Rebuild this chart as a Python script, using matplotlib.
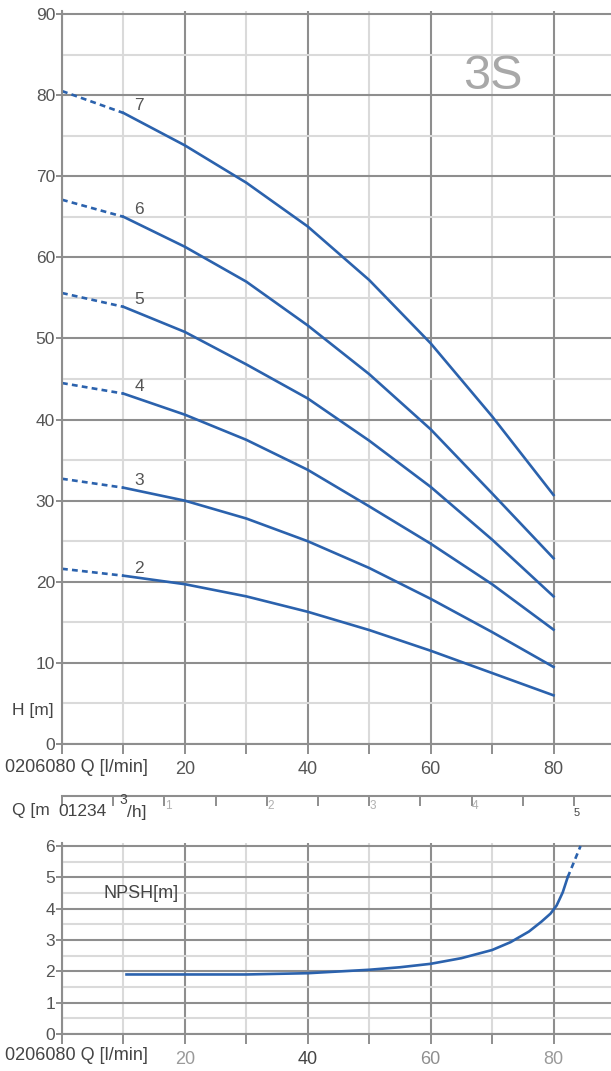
import numpy as np
import matplotlib
matplotlib.use('Agg')
import matplotlib.pyplot as plt
import matplotlib.transforms as mtransforms

plt.rcParams['font.family'] = ['Liberation Sans', 'DejaVu Sans']

# flow points (l/min) where the head curves were read
q_lmin = [0, 10, 20, 30, 40, 50, 60, 70, 80]
h_stage7 = [80.5, 77.8, 73.8, 69.2, 63.8, 57.2, 49.4, 40.4, 30.7]
h_stage6 = [67.1, 65.0, 61.3, 57.0, 51.6, 45.6, 38.8, 30.9, 22.9]
h_stage5 = [55.6, 53.9, 50.8, 46.8, 42.6, 37.4, 31.7, 25.2, 18.2]
h_stage4 = [44.5, 43.2, 40.6, 37.5, 33.8, 29.3, 24.7, 19.7, 14.1]
h_stage3 = [32.7, 31.6, 30.0, 27.8, 25.0, 21.7, 17.9, 13.8, 9.5]
h_stage2 = [21.6, 20.75, 19.7, 18.2, 16.3, 14.05, 11.5, 8.75, 6.0]
stage_names = ['7', '6', '5', '4', '3', '2']

npsh_q = [10.5, 20, 30, 40, 50, 55, 60, 65, 70, 73, 76, 78, 79.5, 80.5, 81.5, 82.3]
npsh_h = [1.9, 1.9, 1.9, 1.94, 2.05, 2.13, 2.24, 2.42, 2.68, 2.93, 3.27, 3.58, 3.84, 4.1, 4.52, 5.0]
npsh_q_ext = [82.3, 84.4]
npsh_h_ext = [5.0, 6.0]

m3h_ticks = np.arange(0, 5.01, 0.5)
m3h_labels = [1, 2, 3, 4, 5]

W, H = 611, 1071
major_c = '#8e8e8e'
minor_c = '#dadada'
blue = '#2b62ad'
txt_c = '#555555'

def fx(px):
    return px / W

def fy(py):
    return 1 - py / H

fig = plt.figure(figsize=(W / 100, H / 100), dpi=100)

px_per_q = 6.144

def style_axes(a):
    for s in ['top', 'right']:
        a.spines[s].set_visible(False)
    for s in ['left', 'bottom']:
        a.spines[s].set_color(major_c)
        a.spines[s].set_linewidth(1.5)
    a.set_xticks([0, 20, 40, 60, 80])
    a.set_xticks([10, 30, 50, 70], minor=True)
    a.grid(which='major', color=major_c, lw=1.5)
    a.grid(which='minor', color=minor_c, lw=1.5)
    a.set_axisbelow(True)
    a.tick_params(axis='x', which='both', direction='out', length=7, width=1.4,
                  color=major_c, pad=5, labelsize=13, labelcolor=txt_c)
    a.tick_params(axis='y', which='major', direction='out', length=4, width=1.4,
                  color=major_c, pad=1, labelsize=12.5, labelcolor=txt_c)
    a.tick_params(axis='y', which='minor', length=0)

# ---- head chart
ax = fig.add_axes([fx(62), fy(744), fx(549), (744 - 11) / H])
ax.set_xlim(0, 549 / px_per_q)
ax.set_ylim(0, 90 + 3 / 8.111)
style_axes(ax)
ax.set_yticks(range(0, 91, 10))
ax.set_yticks(range(5, 90, 10), minor=True)
ax.set_xticklabels(['', '20', '40', '60', '80'])

for h, name in zip([h_stage7, h_stage6, h_stage5, h_stage4, h_stage3, h_stage2], stage_names):
    ax.plot(q_lmin[1:], h[1:], color=blue, lw=1.9, solid_joinstyle='round')
    ax.plot(q_lmin[:2], h[:2], color=blue, lw=1.9, ls=(0, (2.2, 1.6)))
    ax.text(12.6, h[1] + 0.9, name, fontsize=12.5, color=txt_c, ha='center', va='center')

ax.text(70.1, 82.3, '3S', fontsize=35, color='#a8a8a8', ha='center', va='center')

# secondary flow axis in m3/h
sec = ax.secondary_xaxis(-52 / 733, functions=(lambda x: x * 0.06, lambda x: x / 0.06))
sec.set_xticks(m3h_ticks, labels=[''] * len(m3h_ticks))
sec.spines['bottom'].set_color(major_c)
sec.spines['bottom'].set_linewidth(1.5)
sec.tick_params(direction='out', length=7, width=1.4, color=major_c)

trans = mtransforms.blended_transform_factory(ax.transData, fig.transFigure)
for v in m3h_labels:
    if v == 5:
        ax.text(v / 0.06 + 0.4, fy(813), str(v), transform=trans, fontsize=8,
                color='#444444', ha='center', va='center')
    else:
        ax.text(v / 0.06 + 0.6, fy(806), str(v), transform=trans, fontsize=8.5,
                color='#b0b0b0', ha='center', va='center')

fig.text(fx(5), fy(768), '0206080 Q [l/min]', fontsize=13, color='#444444', va='center')
fig.text(fx(12), fy(811), 'Q [m', fontsize=12.5, color='#444444', va='center')
fig.text(fx(58), fy(811), '01234', fontsize=12.5, color='#444444', va='center')
fig.text(fx(119), fy(800), '3', fontsize=10, color='#444444', va='center')
fig.text(fx(127), fy(812), '/h]', fontsize=12.5, color='#444444', va='center')
fig.text(fx(12), fy(711), 'H [m]', fontsize=12.5, color='#444444', va='center')

# ---- NPSH chart
ax2 = fig.add_axes([fx(62), fy(1034), fx(549), (1034 - 843) / H])
ax2.set_xlim(0, 549 / px_per_q)
ax2.set_ylim(0, 6 + 3 / 31.33)
style_axes(ax2)
ax2.set_yticks(range(0, 7))
ax2.set_yticks(np.arange(0.5, 6, 0.5), minor=True)
labs = ax2.set_xticklabels(['', '20', '40', '60', '80'])
for t, c in zip(labs, ['#555555', '#9a9a9a', '#444444', '#8e8e8e', '#9a9a9a']):
    t.set_color(c)

ax2.plot(npsh_q, npsh_h, color=blue, lw=1.9, solid_joinstyle='round')
ax2.plot(npsh_q_ext, npsh_h_ext, color=blue, lw=1.9, ls=(0, (2.2, 1.6)))
ax2.text(6.7, 4.5, 'NPSH[m]', fontsize=13, color='#444444', ha='left', va='center')
fig.text(fx(5), fy(1055), '0206080 Q [l/min]', fontsize=13, color='#444444', va='center')

fig.savefig('out.png', dpi=100, facecolor='white')
